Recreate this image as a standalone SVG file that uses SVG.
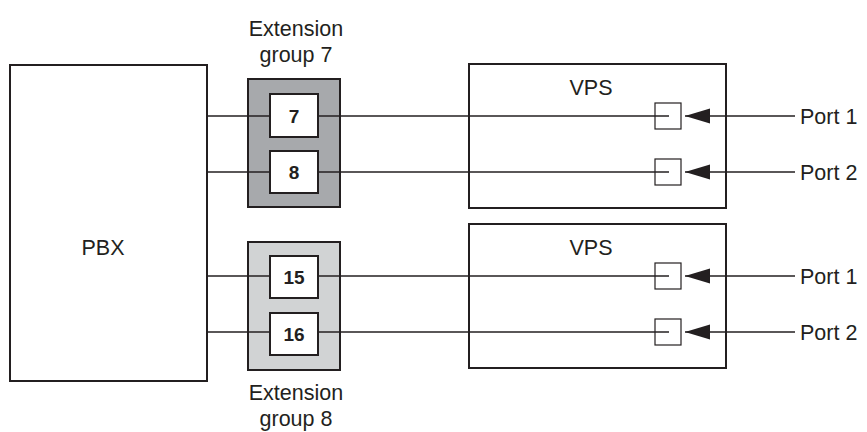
<svg xmlns="http://www.w3.org/2000/svg" width="867" height="432" viewBox="0 0 867 432">
<style>
text{font-family:"Liberation Sans",Arial,sans-serif;fill:#231f20}
.lbl{font-size:21.5px}
.num{font-size:19px;font-weight:bold}
.box{fill:#fff;stroke:#231f20;stroke-width:2}
.vps{fill:none;stroke:#231f20;stroke-width:2}
.wire{stroke:#231f20;stroke-width:1.3;fill:none}
.port{fill:none;stroke:#231f20;stroke-width:1.2}
</style>
<defs>
<marker id="ah" markerWidth="26" markerHeight="16" refX="25" refY="8" orient="auto" markerUnits="userSpaceOnUse">
<path d="M25,8 L0,0.5 L0,15.5 Z" fill="#231f20"/>
</marker>
</defs>
<rect width="867" height="432" fill="#fff"/>
<g id="pbx">
<rect class="box" x="10" y="65" width="197" height="316"/>
<text class="lbl" x="103" y="255" text-anchor="middle">PBX</text>
</g>
<g id="group7">
<rect x="248" y="79" width="92" height="128" fill="#a7a9ac" stroke="#231f20" stroke-width="2"/>
<text class="lbl" x="296" y="36" text-anchor="middle">Extension</text>
<text class="lbl" x="296" y="62" text-anchor="middle">group 7</text>
</g>
<g id="group8">
<rect x="248" y="242" width="92" height="128" fill="#d1d3d4" stroke="#231f20" stroke-width="2"/>
<text class="lbl" x="296" y="400" text-anchor="middle">Extension</text>
<text class="lbl" x="296" y="426" text-anchor="middle">group 8</text>
</g>
<g id="connectors">
<line class="wire" x1="207" y1="116" x2="669" y2="116"/>
<line class="wire" x1="207" y1="172" x2="669" y2="172"/>
<line class="wire" x1="207" y1="276" x2="669" y2="276"/>
<line class="wire" x1="207" y1="332" x2="669" y2="332"/>
<line class="wire" x1="795" y1="116" x2="685" y2="116" marker-end="url(#ah)"/>
<line class="wire" x1="795" y1="172" x2="685" y2="172" marker-end="url(#ah)"/>
<line class="wire" x1="795" y1="276" x2="685" y2="276" marker-end="url(#ah)"/>
<line class="wire" x1="795" y1="332" x2="685" y2="332" marker-end="url(#ah)"/>
</g>
<g id="ext7">
<rect class="box" x="270" y="94" width="48" height="43"/>
<text class="num" x="294" y="123" text-anchor="middle">7</text>
</g>
<g id="ext8">
<rect class="box" x="270" y="151" width="48" height="42"/>
<text class="num" x="294" y="179" text-anchor="middle">8</text>
</g>
<g id="ext15">
<rect class="box" x="270" y="256" width="48" height="42"/>
<text class="num" x="294" y="284" text-anchor="middle">15</text>
</g>
<g id="ext16">
<rect class="box" x="270" y="313" width="48" height="42"/>
<text class="num" x="294" y="341" text-anchor="middle">16</text>
</g>
<g id="vps1">
<rect class="vps" x="469" y="64" width="257" height="144"/>
<text class="lbl" x="591" y="95" text-anchor="middle">VPS</text>
<rect class="port" x="655" y="103" width="26" height="26"/>
<rect class="port" x="655" y="159" width="26" height="26"/>
</g>
<g id="vps2">
<rect class="vps" x="469" y="224" width="257" height="144"/>
<text class="lbl" x="591" y="255" text-anchor="middle">VPS</text>
<rect class="port" x="655" y="263" width="26" height="26"/>
<rect class="port" x="655" y="319" width="26" height="26"/>
</g>
<g id="labels">
<text class="lbl" x="800" y="124">Port 1</text>
<text class="lbl" x="800" y="180">Port 2</text>
<text class="lbl" x="800" y="284">Port 1</text>
<text class="lbl" x="800" y="340">Port 2</text>
</g>
</svg>
